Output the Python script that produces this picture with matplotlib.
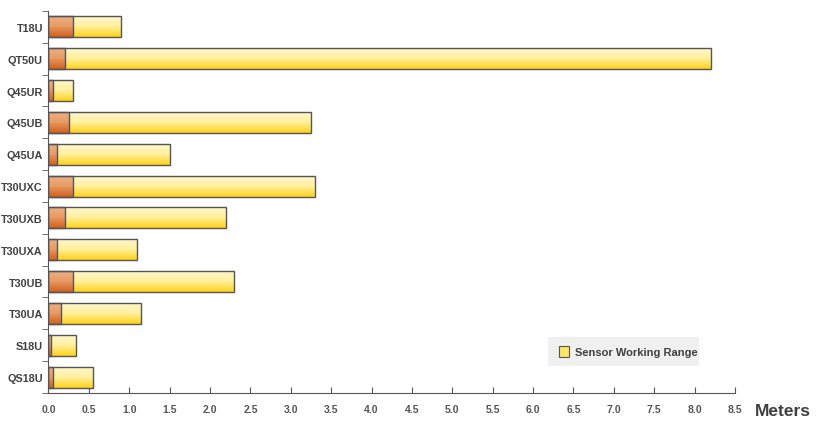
import matplotlib.pyplot as plt
import numpy as np
from matplotlib.colors import LinearSegmentedColormap
from matplotlib.patches import Rectangle

# dane (od dołu do góry)
czujniki = ['QS18U', 'S18U', 'T30UA', 'T30UB', 'T30UXA', 'T30UXB',
            'T30UXC', 'Q45UA', 'Q45UB', 'Q45UR', 'QT50U', 'T18U']
martwa_strefa = [0.05, 0.03, 0.15, 0.3, 0.1, 0.2, 0.3, 0.1, 0.25, 0.05, 0.2, 0.3]
zasieg = [0.55, 0.34, 1.15, 2.3, 1.1, 2.2, 3.3, 1.5, 3.25, 0.3, 8.2, 0.9]
etykiety_x = ['0.0', '0.5', '1.0', '1.5', '2.0', '2.5', '3.0', '3.5', '4.0',
              '4.5', '5.0', '5.5', '6.0', '6.5', '7.0', '7.5', '8.0', '8.5']

font = ['Liberation Sans', 'DejaVu Sans']
plt.rcParams['font.family'] = font

cm_zolty = LinearSegmentedColormap.from_list('z', ['#FFD21A', '#FFF0A0', '#FFF8D0'])
cm_pom = LinearSegmentedColormap.from_list('p', ['#D4601C', '#E79A64', '#EDB48A'])
grad = np.linspace(0, 1, 64).reshape(-1, 1)

fig = plt.figure(figsize=(8.16, 4.39), dpi=100)
ax = fig.add_axes([0.0594, 0.1025, 0.8413, 0.8702])

h = 0.66
y = np.arange(len(czujniki))


def pasek(x0, x1, yc, cmap):
    r = Rectangle((x0, yc - h / 2), x1 - x0, h, facecolor='none',
                  edgecolor='#555555', lw=1.0, zorder=3)
    ax.add_patch(r)
    im = ax.imshow(grad, cmap=cmap, aspect='auto', zorder=2,
                   extent=(x0, x1, yc + h / 2, yc - h / 2), origin='upper')
    im.set_clip_path(r)


for i in range(len(czujniki)):
    pasek(0, zasieg[i], y[i], cm_zolty)
    pasek(0, martwa_strefa[i], y[i], cm_pom)

ax.set_xlim(0, 8.5)
ax.set_ylim(-0.5, len(czujniki) - 0.5)

ax.set_yticks(y)
ax.set_yticklabels(czujniki, fontsize=7.8, fontweight='bold', color='#404040')
ax.set_yticks(np.arange(-0.5, len(czujniki), 1), minor=True)
ax.tick_params(axis='y', which='major', length=0, pad=4)
ax.tick_params(axis='y', which='minor', length=4, direction='out', color='#555555')

ax.set_xticks(np.arange(0, 8.51, 0.5))
ax.set_xticklabels(etykiety_x, fontsize=7.5, fontweight='bold', color='#555555')
ax.tick_params(axis='x', length=4, direction='in', color='#555555', pad=8)

for s in ['top', 'right']:
    ax.spines[s].set_visible(False)
for s in ['left', 'bottom']:
    ax.spines[s].set_color('#555555')

fig.text(0.925, 0.062, 'Meters', fontsize=12.5, fontweight='bold', color='#404040',
         ha='left', va='center')

# legenda
ax.add_patch(Rectangle((6.18, 0.35), 1.87, 0.9, facecolor='#F0F0F0', edgecolor='none',
                       zorder=1))
ax.add_patch(Rectangle((6.32, 0.63), 0.13, 0.34, facecolor='#FFE566', edgecolor='#555555',
                       lw=0.8, zorder=2))
ax.text(6.52, 0.8, 'Sensor Working Range', fontsize=8, fontweight='bold',
        color='#404040', va='center', ha='left', zorder=2)

plt.savefig('out.png')
